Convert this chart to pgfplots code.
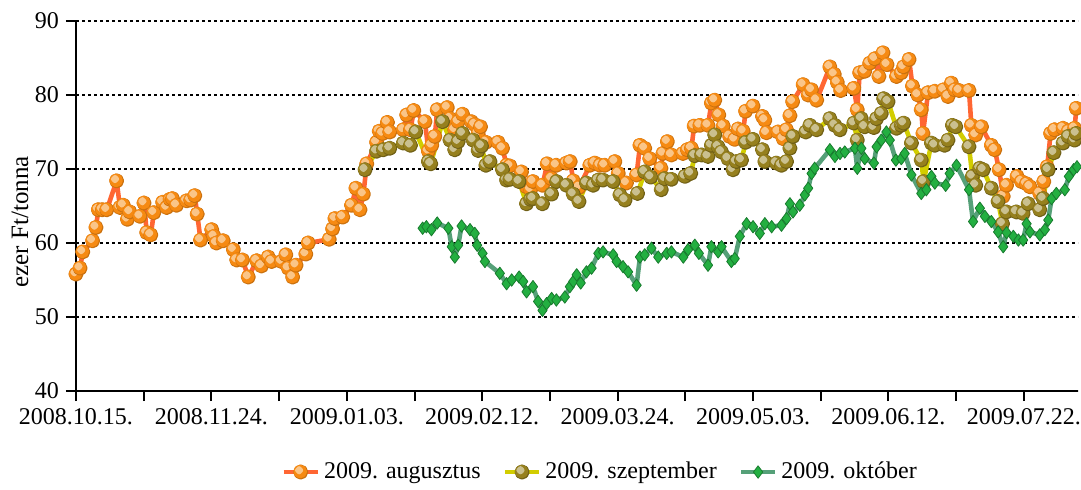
\documentclass[border=0pt]{standalone}
\usepackage{fontspec}
\setmainfont{Liberation Serif}
\usepackage{pgfplots}
\usepackage{pgfplotstable}
\pgfplotsset{compat=1.18}

\definecolor{augline}{RGB}{255,102,51}
\definecolor{augball}{RGB}{246,138,18}
\definecolor{szline}{RGB}{210,205,0}
\definecolor{szball}{RGB}{150,128,30}
\definecolor{oktline}{RGB}{85,160,120}
\definecolor{oktmark}{RGB}{35,175,65}

% small 3D-looking balls
\pgfdeclareplotmark{augmark}{%
  \fill[augball!82!black] (0pt,0pt) circle (2.6pt);
  \fill[augball] (-0.25pt,0.25pt) circle (2.25pt);
  \fill[white!50!augball] (-0.8pt,0.9pt) circle (0.9pt);}
\pgfdeclareplotmark{szmark}{%
  \fill[szball!75!black] (0pt,0pt) circle (2.6pt);
  \fill[szball] (-0.25pt,0.25pt) circle (2.25pt);
  \fill[white!50!szball] (-0.8pt,0.9pt) circle (0.9pt);}

% x = days since 2008.10.15., y = ezer Ft/tonna
\pgfplotstableread{
x y
0.0 55.8
1.2 56.6
2.0 58.8
4.9 60.3
5.9 62.1
6.6 64.5
7.8 64.5
9.1 64.5
12.0 68.4
13.0 64.8
14.0 65.1
15.2 63.2
15.9 64.2
18.9 63.6
20.1 65.4
20.9 61.4
22.1 61.1
23.0 64.1
25.6 65.5
26.8 64.8
27.8 65.9
28.5 66.0
29.7 65.1
32.7 65.7
33.9 65.8
35.1 66.4
35.8 63.9
36.8 60.4
40.1 61.8
40.8 60.9
41.5 60.0
43.5 60.3
46.5 59.1
47.5 57.7
49.2 57.7
50.9 55.4
53.4 57.6
54.8 56.9
56.8 58.1
57.8 57.5
60.7 57.5
62.0 58.4
62.7 56.6
64.0 55.4
65.0 57.0
67.9 58.5
68.6 60.0
74.8 60.5
75.8 61.9
76.5 63.3
78.8 63.5
81.4 65.1
82.7 67.4
83.9 64.5
84.9 66.6
85.9 70.7
88.8 73.6
89.6 75.1
90.6 74.8
92.0 76.3
92.7 75.0
96.7 75.3
97.7 77.3
98.8 75.3
99.8 77.9
103.1 76.4
104.1 72.4
105.1 73.2
106.0 74.4
106.7 78.0
109.7 78.3
110.5 76.8
111.9 75.3
112.9 76.4
114.2 77.4
116.8 76.4
117.8 76.0
118.8 74.8
119.5 75.7
121.1 73.6
124.7 73.6
126.0 72.8
127.2 70.5
128.2 70.4
131.6 69.6
133.1 67.6
134.3 67.2
135.0 68.3
137.8 67.8
139.2 70.7
140.5 68.7
141.9 70.5
144.9 70.8
146.0 71.0
146.9 68.4
148.6 67.5
151.8 70.5
153.3 70.8
154.8 70.5
156.2 70.5
159.2 71.0
160.2 69.4
162.6 68.1
165.6 69.2
166.6 73.2
168.0 72.8
169.5 71.4
172.8 70.1
173.4 72.1
174.7 73.7
175.9 71.9
179.3 72.1
180.6 72.6
181.8 72.8
182.6 75.8
184.3 75.9
186.7 75.9
187.7 78.9
188.7 79.3
189.9 77.3
191.2 75.8
193.1 74.4
194.6 74.0
195.6 75.4
197.1 75.1
197.8 77.8
200.0 78.5
202.8 77.1
203.5 76.6
204.0 74.9
207.4 75.0
208.9 74.1
209.9 75.3
210.9 77.2
211.7 79.1
214.8 81.4
216.3 80.0
217.3 80.7
218.8 79.3
222.7 83.8
224.0 82.8
224.9 81.7
225.9 80.6
229.8 80.9
230.8 78.0
231.5 83.0
233.0 83.2
234.5 84.3
236.0 84.9
237.2 82.5
238.4 85.7
239.6 84.1
242.4 82.5
243.8 83.0
244.5 83.8
246.1 84.8
247.1 81.2
248.7 80.0
249.7 78.0
250.2 74.8
251.7 80.3
253.7 80.5
256.3 80.7
257.6 79.8
258.6 81.6
259.6 80.7
260.9 80.6
263.8 80.6
264.5 75.9
265.8 74.6
267.5 75.7
270.4 73.2
271.4 72.6
272.7 69.9
273.9 66.3
274.9 67.8
278.0 69.0
279.3 68.3
280.8 68.0
281.8 67.6
284.7 66.7
285.9 68.3
286.9 70.3
287.9 74.8
289.1 75.3
291.6 75.5
293.1 75.1
295.0 75.5
295.5 78.2
}\augusztus

\pgfplotstableread{
x y
85.4 69.9
88.8 72.4
90.8 72.6
92.7 72.8
96.7 73.5
98.8 73.2
100.4 75.0
104.1 71.0
104.8 70.7
108.3 76.4
110.5 73.9
111.9 72.6
112.9 73.7
114.2 74.8
117.3 73.9
118.8 72.5
119.8 73.1
121.1 70.5
122.3 71.0
126.0 69.9
127.2 68.5
128.2 68.6
130.9 68.3
133.1 65.3
134.3 65.9
135.0 66.0
137.8 65.3
140.5 66.6
142.0 68.3
144.9 67.8
146.9 66.6
148.6 65.6
150.8 68.1
152.8 67.8
154.3 68.5
155.7 68.5
158.7 68.3
160.7 66.5
162.2 65.8
165.9 66.7
168.0 69.6
169.8 68.9
172.9 67.2
173.9 68.7
175.9 68.6
179.9 69.0
181.6 69.4
182.8 71.8
184.8 71.9
186.7 71.7
187.7 73.2
188.7 74.6
189.7 73.0
190.7 72.3
192.6 71.4
194.1 69.9
195.1 71.0
196.6 71.2
197.8 73.6
200.0 74.0
202.8 72.6
203.5 71.0
206.9 70.8
208.4 70.5
209.9 71.0
210.9 72.8
211.8 74.4
215.6 75.0
216.8 75.9
218.8 75.3
222.7 76.8
224.2 75.9
225.7 75.3
229.8 76.2
230.8 73.9
232.0 76.8
233.0 75.7
235.7 75.6
236.5 76.8
237.9 77.5
238.6 79.5
239.9 79.1
242.4 75.5
243.8 75.9
244.5 76.2
246.8 73.5
249.7 71.2
250.4 68.3
252.7 73.5
253.7 73.2
256.6 73.2
257.6 73.9
258.9 75.9
259.9 75.7
263.8 73.0
264.8 69.0
265.8 67.8
267.0 70.1
268.0 69.9
270.4 67.4
272.4 65.6
273.7 62.6
274.9 64.2
277.8 64.2
279.8 64.0
281.3 65.3
284.7 64.5
285.7 66.0
287.2 69.9
288.9 72.2
291.6 73.5
293.1 74.4
295.0 73.9
295.5 74.8
}\szeptember

\pgfplotstableread{
x y
102.4 62.0
103.5 62.2
105.0 61.8
106.7 62.7
110.0 62.0
111.0 59.5
111.9 58.1
112.9 59.7
113.9 62.3
116.4 61.8
117.8 61.3
118.5 59.7
120.1 58.6
120.8 57.5
125.2 55.9
127.2 54.5
128.7 55.0
130.9 55.4
132.1 54.8
133.1 53.4
135.0 54.1
136.5 52.1
137.8 50.9
139.0 51.8
140.5 52.5
141.9 52.3
144.4 52.7
145.9 54.1
146.9 54.8
147.9 55.7
149.1 54.6
150.8 56.1
152.3 56.6
154.3 58.6
155.7 58.8
158.7 58.4
159.7 57.5
161.6 56.8
163.1 56.1
165.6 54.3
166.6 58.1
168.0 58.4
170.0 59.3
172.0 58.1
174.5 58.6
175.9 58.8
179.4 58.1
180.8 59.1
182.8 59.7
184.0 58.6
186.7 57.0
187.7 59.5
189.7 58.8
190.7 59.5
193.6 57.5
194.6 57.9
196.1 60.9
198.1 62.6
200.0 62.2
202.0 61.3
203.5 62.6
205.5 62.2
208.4 62.4
209.9 63.3
210.9 65.3
211.8 64.2
213.8 65.1
215.3 66.5
216.3 67.4
217.3 69.4
218.2 70.1
222.7 72.6
224.2 71.7
225.7 72.1
227.1 72.3
230.1 72.8
230.8 70.1
232.0 72.8
233.0 71.4
235.7 70.8
236.5 73.0
237.9 73.9
239.4 75.0
240.4 73.9
242.2 71.2
243.8 71.4
244.8 72.1
246.8 69.2
249.7 66.7
251.2 67.2
252.7 69.0
253.7 68.1
256.9 67.8
258.1 69.4
260.1 70.5
263.8 67.2
265.0 62.9
267.0 64.7
268.5 63.6
270.4 62.9
272.4 61.5
273.9 59.5
274.9 61.4
276.9 60.9
278.4 60.4
279.8 60.4
280.8 62.6
281.8 61.5
284.7 61.1
286.2 61.8
287.2 63.1
288.2 66.0
289.6 66.7
292.1 67.2
293.3 69.0
294.7 69.9
295.7 70.3
}\oktober

\begin{document}
\begin{tikzpicture}
  \useasboundingbox (-38pt,-49pt) rectangle (502.5pt,195.5pt);
  \begin{axis}[
      scale only axis, width=501pt, height=185pt,
      xmin=0, xmax=296, ymin=40, ymax=90,
      axis x line*=bottom, axis y line*=left,
      axis line style={black, line width=1pt, -},
      xtick={0,40,...,280},
      xticklabels={2008.10.15.,2008.11.24.,2009.01.03.,2009.02.12.,2009.03.24.,2009.05.03.,2009.06.12.,2009.07.22.},
      minor xtick={20,60,...,260},
      ytick={40,50,...,90},
      tick align=outside,
      major tick length=5pt, minor tick length=5pt,
      tick style={black, line width=1pt},
      ymajorgrids,
      major grid style={black, line width=0.9pt, dash pattern=on 1.7pt off 1.3pt},
      /pgf/number format/assume math mode=true,
      tick label style={font=\fontsize{12}{14}\selectfont},
      ylabel={ezer Ft/tonna},
      ylabel style={font=\fontsize{12.5}{14}\selectfont, at={(axis description cs:-0.056,0.457)}, anchor=center},
      legend style={at={(axis description cs:0.524,-0.219)}, anchor=center, draw=none,
        font=\fontsize{12}{14}\selectfont, inner sep=0pt,
        /tikz/every even column/.append style={column sep=9pt}},
      legend columns=-1,
      line join=round,
    ]
    \addplot[augline, line width=2.3pt, mark=augmark] table {\augusztus};
    \addlegendentry{2009. augusztus}
    \addplot[szline, line width=2.3pt, mark=szmark] table {\szeptember};
    \addlegendentry{2009. szeptember}
    \addplot[oktline, line width=2.3pt, mark=diamond*, mark size=3.1pt,
      mark options={fill=oktmark, draw=oktmark!70!black, line width=0.4pt}] table {\oktober};
    \addlegendentry{2009. október}
  \end{axis}
\end{tikzpicture}
\end{document}
